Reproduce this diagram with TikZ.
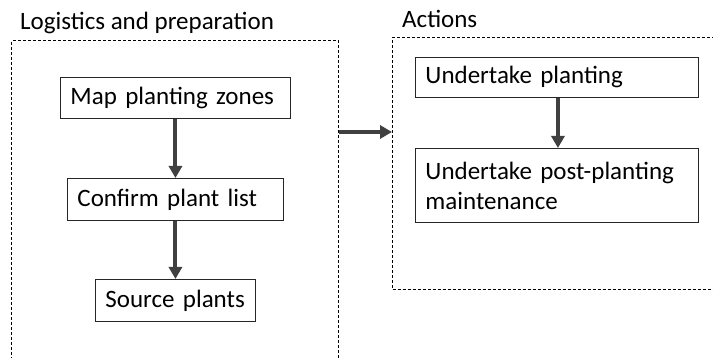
\documentclass[tikz,border=0pt]{standalone}
\usepackage{fontspec}
\setmainfont{Carlito}
\usepackage{xcolor}
\usetikzlibrary{positioning, arrows.meta, calc}
\definecolor{arrowgray}{HTML}{404040}

\begin{document}
\begin{tikzpicture}[x=1pt, y=-1pt,
    every node/.style={font=\fontsize{25}{30}\selectfont},
    stepbox/.style={draw=black!85, line width=0.9pt, align=left,
          inner xsep=10pt, inner ysep=0pt, anchor=north west},
    frame/.style={draw=black, dashed, dash pattern=on 3pt off 2pt,
          line width=1pt, anchor=north west, inner sep=0pt},
    flow/.style={draw=arrowgray, line width=4pt,
          -{Triangle[length=12pt, width=13pt]}}]
    \useasboundingbox (0,0) rectangle (713,358);
    \clip (0,0) rectangle (713,358);
    % dashed groups
    \node[frame, minimum width=327pt, minimum height=360pt] (prep) at (11,40.5) {};
    \node[frame, minimum width=340pt, minimum height=252pt] (act) at (392,37) {};
    \node[anchor=base west, inner sep=0pt] (preptitle) at (20,30) {Logistics and preparation};
    \node[anchor=base west, inner sep=0pt] (acttitle) at (402,28) {Actions};
    % logistics steps
    \node[stepbox, text width=210pt, minimum height=41pt] (zones) at (60,77) {Map planting zones};
    \node[stepbox, text width=196pt, minimum height=42pt] (list) at (67,178) {Confirm plant list};
    \node[stepbox, text width=140pt, minimum height=42pt] (source) at (95,279) {Source plants};
    % actions
    \node[stepbox, text width=263pt, minimum height=40pt] (plant) at (415,57) {Undertake planting};
    \node[stepbox, text width=263pt, minimum height=74pt] (maint) at (415,148) {Undertake post-planting\\maintenance};
    % connectors
    \draw[flow] (zones.south) -- (list.north);
    \draw[flow] (list.south) -- (source.north);
    \draw[flow] ($(plant.south west)!0.5!(plant.south east)+(1,0)$) -- ($(maint.north west)!0.5!(maint.north east)+(1,0)$);
    \coordinate (link) at (365,132);
    \draw[flow] (link -| prep.east) -- (link -| act.west);
  \end{tikzpicture}
\end{document}
